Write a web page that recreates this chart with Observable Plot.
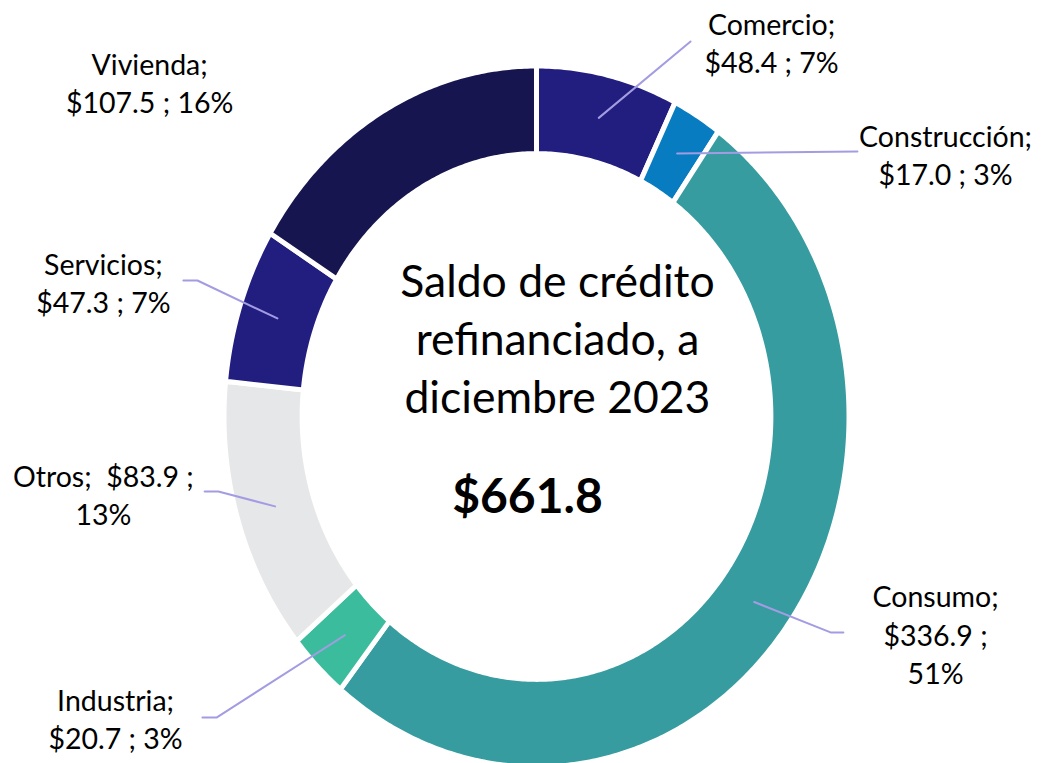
<!DOCTYPE html>
<html><head><meta charset="utf-8">
<script src="https://cdn.jsdelivr.net/npm/d3@7"></script>
<script src="https://cdn.jsdelivr.net/npm/@observablehq/plot@0.6"></script>
<style>body{margin:0;background:#fff}</style>
</head><body><div id="chart"></div>
<script>
// ---- data ----
const categories = ["Comercio", "Construcción", "Consumo", "Industria", "Otros", "Servicios", "Vivienda"];
const values = [48.4, 17.0, 336.9, 20.7, 83.9, 47.3, 107.5];
const percents = [7, 3, 51, 3, 13, 7, 16];
const colors = ["#221e80", "#077cc0", "#369c9f", "#3bbc9d", "#e6e7e8", "#221e80", "#161550"];
const totalLabel = "$661.8";
const titleLines = ["Saldo de crédito", "refinanciado, a", "diciembre 2023"];

// label text, with line breaks as in the reference
const fmt = i => `$${values[i].toFixed(1)}`;
const labelText = [
  `${categories[0]};\n${fmt(0)} ; ${percents[0]}%`,
  `${categories[1]};\n${fmt(1)} ; ${percents[1]}%`,
  `${categories[2]};\n${fmt(2)} ;\n${percents[2]}%`,
  `${categories[3]};\n${fmt(3)} ; ${percents[3]}%`,
  `${categories[4]};  ${fmt(4)} ;\n${percents[4]}%`,
  `${categories[5]};\n${fmt(5)} ; ${percents[5]}%`,
  `${categories[6]};\n${fmt(6)} ; ${percents[6]}%`
];

// ---- layout (in chart units, ring outer radius = 1) ----
const labelPos = [[0.752, 1.07], [1.309, 0.75], [1.277, -0.619], [-1.347, -0.859], [-1.386, -0.22], [-1.386, 0.385], [-1.238, 0.956]];
// leader line elbow / end points (null = no leader)
const leaderPts = [
  [[0.493, 1.07]],
  [[1.027, 0.756]],
  [[0.941, -0.616], [0.982, -0.616]],
  [[-1.024, -0.859], [-1.069, -0.859]],
  [[-1.018, -0.214], [-1.062, -0.214]],
  [[-1.085, 0.388], [-1.13, 0.388]],
  null
];
const inner = 0.75;

const arcs = d3.pie().sort(null).value(d => d)(values);
const marks = [];
arcs.forEach((a, i) => {
  const pts = [];
  const n = Math.max(4, Math.ceil((a.endAngle - a.startAngle) / 0.01));
  for (let k = 0; k <= n; k++) {
    const t = a.startAngle + (a.endAngle - a.startAngle) * k / n;
    pts.push({x: Math.sin(t), y: Math.cos(t)});
  }
  for (let k = n; k >= 0; k--) {
    const t = a.startAngle + (a.endAngle - a.startAngle) * k / n;
    pts.push({x: inner * Math.sin(t), y: inner * Math.cos(t)});
  }
  pts.push(pts[0]);
  marks.push(Plot.line(pts, {x: "x", y: "y", fill: colors[i], stroke: "white", strokeWidth: 5, curve: "linear"}));
});
arcs.forEach((a, i) => {
  if (!leaderPts[i]) return;
  const m = (a.startAngle + a.endAngle) / 2, r = (1 + inner) / 2;
  const pts = [{x: r * Math.sin(m), y: r * Math.cos(m)}, ...leaderPts[i].map(([x, y]) => ({x, y}))];
  marks.push(Plot.line(pts, {x: "x", y: "y", stroke: "#a49ce3", strokeWidth: 2}));
});
const labels = categories.map((c, i) => ({x: labelPos[i][0], y: labelPos[i][1], text: labelText[i]}));
marks.push(Plot.text(labels, {x: "x", y: "y", text: "text", fontSize: 28.5, lineHeight: 1.35, fill: "#000", fontFamily: "Lato"}));
marks.push(Plot.text([titleLines.join("\n")], {x: () => 0.067, y: () => 0.229, text: d => d, fontSize: 44.5, lineHeight: 1.3, fill: "#000", fontFamily: "Lato"}));
marks.push(Plot.text([totalLabel], {x: () => -0.029, y: () => -0.231, text: d => d, fontSize: 48, fontWeight: "bold", fill: "#000", fontFamily: "Lato"}));

const chart = Plot.plot({
  width: 1048, height: 763,
  margin: 0,
  x: {domain: [-1, 1], range: [223.5, 848.5], axis: null},
  y: {domain: [-1, 1], range: [766.5, 65.5], axis: null},
  style: {background: "white", overflow: "visible"},
  marks
});
document.getElementById("chart").append(chart);
</script>
</body></html>
